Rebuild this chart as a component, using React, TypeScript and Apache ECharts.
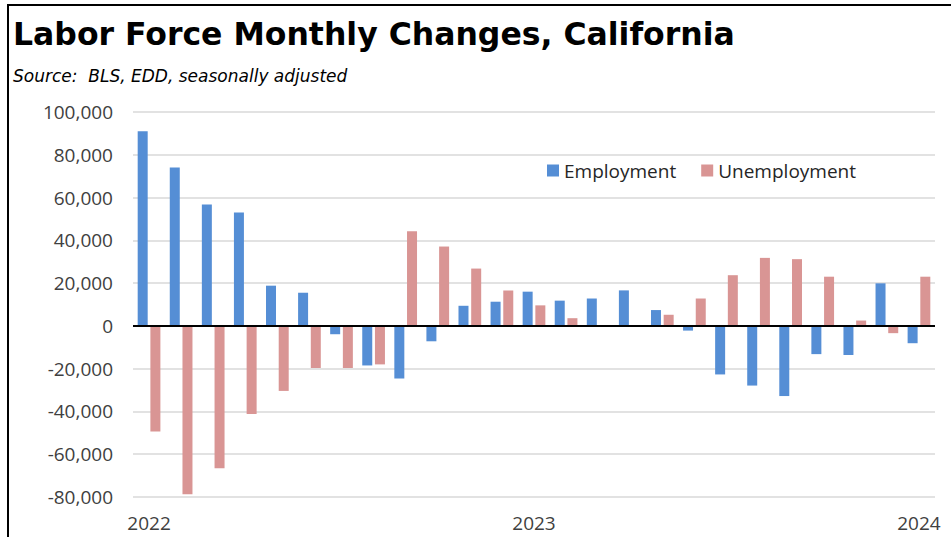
import React, { useEffect, useRef } from "react";
import * as echarts from "echarts";

const months: string[] = [
  "2022-01", "2022-02", "2022-03", "2022-04", "2022-05", "2022-06", "2022-07", "2022-08", "2022-09", "2022-10", "2022-11", "2022-12",
  "2023-01", "2023-02", "2023-03", "2023-04", "2023-05", "2023-06", "2023-07", "2023-08", "2023-09", "2023-10", "2023-11", "2023-12",
  "2024-01",
];

const employment: number[] = [
  91000, 74000, 56700, 53000, 18800, 15500, -3900, -18500, -24600, -7200, 9400, 11300,
  16000, 11800, 12800, 16600, 7400, -2200, -22700, -27900, -32800, -13200, -13600, 19900,
  -8100,
];

const unemployment: number[] = [
  -49400, -78700, -66600, -41200, -30400, -19700, -19700, -18000, 44200, 37100, 26800, 16600,
  9600, 3600, 0, 0, 5200, 12800, 23700, 31800, 31200, 23000, 2500, -3400,
  23000,
];

const yearTicks: string[] = ["2022", "2023", "2024"];

const FONT = "'Open Sans', 'Noto Sans', sans-serif";
const WIDE = "'DejaVu Sans', 'Open Sans', sans-serif";

export default function App() {
  const ref = useRef<HTMLDivElement>(null);

  useEffect(() => {
    if (!ref.current) return;
    const chart = echarts.init(ref.current, undefined, { renderer: "svg" });
    chart.setOption({
      animation: false,
      backgroundColor: "#ffffff",
      textStyle: { fontFamily: FONT },
      title: [
        {
          text: "Labor Force Monthly Changes, California",
          left: 13,
          top: 18,
          padding: 0,
          textStyle: { fontFamily: WIDE, fontSize: 31.5, fontWeight: "bold", color: "#000000" },
        },
        {
          text: "Source:  BLS, EDD, seasonally adjusted",
          left: 13,
          top: 67,
          padding: 0,
          textStyle: { fontFamily: WIDE, fontSize: 17, fontStyle: "italic", fontWeight: "normal", color: "#000000" },
        },
      ],
      graphic: [
        {
          type: "rect",
          shape: { x: 8, y: 5, width: 960, height: 600 },
          style: { fill: "none", stroke: "#000000", lineWidth: 2 },
          silent: true,
        },
      ],
      legend: {
        left: 547,
        top: 161,
        padding: 0,
        icon: "rect",
        itemWidth: 12,
        itemHeight: 12,
        itemGap: 25,
        textStyle: { fontFamily: FONT, fontSize: 19, color: "#262626" },
        data: ["Employment", "Unemployment"],
      },
      grid: { left: 133, right: 16, top: 112, bottom: 40, containLabel: false },
      xAxis: {
        type: "category",
        data: months,
        axisLine: { show: false, onZero: false },
        axisTick: { show: false },
        splitLine: { show: false },
        axisLabel: {
          interval: (i: number) => i % 12 === 0,
          margin: 16,
          fontFamily: FONT,
          fontSize: 19,
          color: "#404040",
          formatter: (v: string) => yearTicks[yearTicks.indexOf(v.slice(0, 4))] ?? "",
        },
      },
      yAxis: {
        type: "value",
        min: -80000,
        max: 100000,
        interval: 20000,
        axisLine: { show: false },
        axisTick: { show: false },
        splitLine: { lineStyle: { color: "#d9d9d9", width: 1.5 } },
        axisLabel: {
          margin: 20,
          fontFamily: FONT,
          fontSize: 19,
          color: "#404040",
          formatter: (v: number) => v.toLocaleString("en-US"),
        },
      },
      series: [
        {
          name: "Employment",
          type: "bar",
          data: employment,
          barWidth: 10,
          barGap: "27%",
          itemStyle: { color: "#558ED5" },
          markLine: {
            silent: true,
            symbol: ["none", "none"],
            label: { show: false },
            lineStyle: { color: "#000000", width: 2, type: "solid" },
            data: [{ yAxis: 0 }],
          },
        },
        {
          name: "Unemployment",
          type: "bar",
          data: unemployment,
          barWidth: 10,
          itemStyle: { color: "#D99594" },
        },
      ],
    });
    return () => chart.dispose();
  }, []);

  return (
    <div
      ref={ref}
      style={{ position: "fixed", left: 0, top: 0, width: 951, height: 537 }}
    />
  );
}
